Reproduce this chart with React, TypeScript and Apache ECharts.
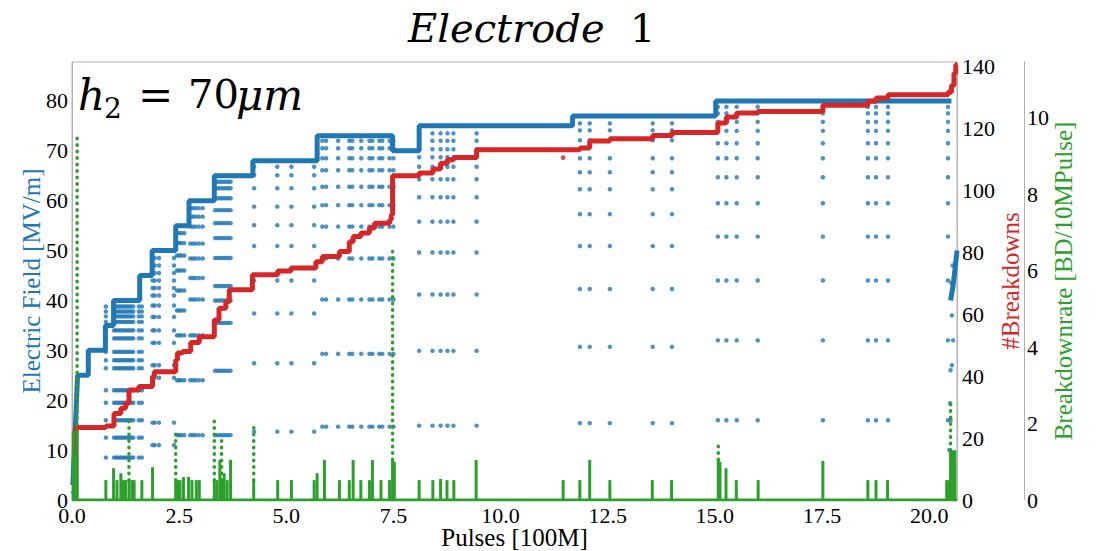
import React, { useEffect, useRef } from "react";
import * as echarts from "echarts";

// ---- Electric field: main step (start x of each level, level in MV/m) ----
const fieldStepX = [0.13, 0.38, 0.78, 0.97, 1.58, 1.87, 2.42, 2.73, 3.32, 4.22, 5.72, 7.48, 8.1, 11.68, 15.02];
const fieldStepLevel = [25, 30, 35, 40, 45, 50, 55, 60, 65, 68, 73, 70, 75, 77, 80];
const fieldStepEndX = 20.52;
const fieldRampStart = [[0.02, 3]];
const fieldTail = [[20.5, 40], [20.56, 43], [20.6, 46], [20.65, 50]];

// ---- Electric field: recovery ramps after breakdowns (columns x, levels) ----
const e40Cols = [0.79, 0.98, 1.03, 1.08, 1.13, 1.18, 1.23, 1.28, 1.33, 1.38, 1.43, 1.56, 1.63];
const e40Levels = [8.5, 12.5, 16, 19.5, 22, 26.4, 28, 29.7, 32.4, 34, 35.7, 36.8, 37.8, 38.8];
const e50Cols = [1.88, 1.93, 2.03, 2.38];
const e50Levels = [11, 15.5, 24.5, 27, 31.5, 34, 36.7, 39, 41, 42.5, 44, 45.5, 47, 48.5];
const e55Cols = [2.45, 2.5, 2.55, 2.62];
const e55Levels = [13, 24, 33, 38, 42, 46, 49, 51.5, 53.5];
const e60Cols = [2.76, 2.82, 2.88, 2.96, 3.05];
const e60Levels = [13, 24, 33, 40.2, 44.5, 48.4, 51.4, 54.8, 56.8, 58.5];
const e65Cols = [3.34, 3.4, 3.46, 3.52, 3.58, 3.64, 3.7];
const e65Levels = [13, 25.9, 35.5, 40, 42.9, 48.5, 52.5, 55.5, 58.1, 60.5, 62.5, 63.8];
const e68Cols = [4.25, 4.79, 5.12, 5.65];
const e68Levels = [13.7, 27.4, 37.4, 44, 50.9, 55.1, 58.8, 62.5, 65.1, 66.8];
const e73Cols = [5.84, 5.93, 6.21, 6.47, 6.54, 6.75, 6.94, 7.01, 7.17, 7.24, 7.41, 7.5];
const e73Levels = [14.7, 29.3, 40.2, 48.4, 54.8, 59.1, 62.8, 66.1, 68.5, 70.5, 72];
const e75Cols = [8.1, 8.41, 8.6, 8.76, 8.9, 9.44];
const e75Levels = [14.9, 29.9, 41.2, 49.6, 55.8, 60.7, 64.3, 66.8, 68.7, 70.3, 72, 73.5];
const e77Cols = [11.85, 12.08, 12.55, 13.55, 14.0];
const e77Levels = [15.4, 30.7, 42.3, 50.9, 57.3, 62.3, 65.7, 68.5, 72.1, 74.1, 75.5];
const e80Cols = [15.07, 15.27, 15.51, 16.0, 17.52, 18.57, 18.76, 19.04, 20.44];
const e80Levels = [16, 32, 44, 52.8, 59.5, 64.7, 68.5, 71.5, 74, 75.8, 77.5, 78.8];
const fieldExtraX = [0.03, 0.04, 0.05, 0.06, 0.08, 20.47, 20.5, 20.49, 20.5, 20.53, 20.56, 20.53, 20.52, 20.55];
const fieldExtraY = [1.5, 4, 6, 9, 12, 10, 16, 19.4, 26, 27, 32, 37, 43.5, 47];

// ---- Cumulative breakdowns (step) ----
const bdStepX = [0.09, 0.79, 0.98, 1.14, 1.25, 1.33, 1.56, 1.88, 1.92, 2.42, 2.46, 2.58, 2.77, 2.97, 3.32, 3.43, 3.59, 3.67, 4.21, 4.8, 5.11, 5.69, 5.84, 6.24, 6.47, 6.56, 6.74, 6.94, 7.06, 7.41, 7.45, 7.48, 8.1, 8.42, 8.6, 8.76, 8.91, 9.44, 11.85, 12.08, 12.55, 13.55, 14.0, 15.07, 15.27, 15.51, 16.0, 17.52, 18.57, 18.76, 19.04, 20.44, 20.52, 20.58, 20.62];
const bdStepLevel = [23.4, 23.9, 28, 29.7, 31.3, 35.6, 36.7, 39.9, 41.5, 45.3, 47.5, 48, 50.9, 52.8, 58.2, 62, 64.2, 68, 72.8, 74, 75, 77, 78.7, 80.3, 83.5, 85.2, 86.3, 87.9, 89.5, 90.6, 92.2, 104.8, 105.7, 107, 108.9, 110, 110.7, 113.2, 113.8, 116.1, 116.8, 117.8, 118.8, 121.9, 123.8, 125.1, 125.6, 127.6, 128.9, 130, 131, 131.8, 134, 138, 140.7];
const bdStepEndX = 20.65;
const bdStray = [[11.46, 110.7]];

// ---- Breakdown rate: solid spike parts ----
const rateX = [0.03, 0.06, 0.1, 0.12, 0.79, 0.97, 1.05, 1.14, 1.2, 1.25, 1.33, 1.4, 1.45, 1.63, 1.88, 2.42, 2.47, 2.52, 2.6, 2.72, 2.8, 2.9, 2.97, 3.32, 3.38, 3.45, 3.49, 3.55, 3.62, 3.7, 4.24, 4.8, 5.12, 5.65, 5.72, 5.89, 6.24, 6.47, 6.56, 6.74, 6.94, 7.01, 7.21, 7.41, 7.48, 7.52, 8.1, 8.42, 8.6, 8.75, 8.91, 9.43, 11.46, 11.85, 12.08, 12.55, 13.54, 13.99, 15.08, 15.12, 15.26, 15.5, 16.01, 17.52, 18.57, 18.76, 19.03, 20.41, 20.47, 20.5, 20.55, 20.6];
const rateH = [1.8, 1.2, 0.8, 1.8, 0.52, 0.83, 0.52, 0.7, 0.52, 0.52, 0.52, 0.52, 0.52, 0.52, 0.86, 0.52, 0.52, 0.52, 0.6, 0.6, 0.52, 0.52, 0.52, 0.52, 0.52, 1.05, 0.52, 0.7, 0.52, 1.05, 0.52, 0.52, 0.52, 0.52, 0.7, 1.05, 0.52, 0.52, 1.05, 0.52, 0.52, 1.05, 0.52, 0.52, 1.05, 1.0, 0.52, 0.52, 0.55, 0.52, 0.52, 1.05, 0.52, 0.52, 1.05, 0.52, 0.52, 0.52, 1.05, 1.0, 0.83, 0.52, 0.52, 1.02, 0.52, 0.52, 0.52, 0.52, 0.52, 1.3, 1.3, 1.3];
// ---- Breakdown rate: dotted upper parts of the tall spikes ----
const rateDotX = [0.12, 1.33, 2.42, 3.32, 3.49, 4.24, 7.48, 15.08, 20.5];
const rateDotBase = [1.8, 0.52, 0.52, 0.52, 0.52, 0.52, 1.05, 1.05, 1.3];
const rateDotTop = [9.55, 2.14, 1.82, 2.14, 1.61, 2.02, 6.5, 1.53, 2.6];

const xTicksMax = 20.65;

const BLUE = "#1f77b4";
const RED = "#d62728";
const GREEN = "#2ca02c";
const SERIF = "'Liberation Serif', serif";
const MATH = "'DejaVu Serif', serif";

function stepCorners(xs: number[], ys: number[], endX: number) {
  const pts: number[][] = [];
  for (let i = 0; i < xs.length; i++) {
    pts.push([xs[i], ys[i]]);
    pts.push([i + 1 < xs.length ? xs[i + 1] : endX, ys[i]]);
  }
  return pts;
}

export default function App() {
  const ref = useRef<HTMLDivElement>(null);
  useEffect(() => {
    if (!ref.current) return;
    const chart = echarts.init(ref.current, null, { renderer: "svg" });

    const eras: [number[], number[]][] = [
      [e40Cols, e40Levels], [e50Cols, e50Levels], [e55Cols, e55Levels], [e60Cols, e60Levels],
      [e65Cols, e65Levels], [e68Cols, e68Levels], [e73Cols, e73Levels], [e75Cols, e75Levels],
      [e77Cols, e77Levels], [e80Cols, e80Levels],
    ];
    const fieldDots: number[][] = [];
    eras.forEach(([cols, levels]) => cols.forEach((c) => levels.forEach((l) => fieldDots.push([c, l]))));
    fieldExtraX.forEach((x, i) => fieldDots.push([x, fieldExtraY[i]]));

    const fieldLine = [...fieldRampStart, ...stepCorners(fieldStepX, fieldStepLevel, fieldStepEndX)];
    const bdLine = [[bdStepX[0], 0], ...stepCorners(bdStepX, bdStepLevel, bdStepEndX)];
    const rateBars = rateX.map((x, i) => [x, rateH[i]]);
    const dottedSeries = rateDotX.map((x, i) => ({
      name: `rate dotted ${i}`,
      type: "line",
      yAxisIndex: 2,
      data: [[x, rateDotBase[i]], [x, rateDotTop[i]]],
      showSymbol: false,
      lineStyle: { color: GREEN, width: 3.5, type: [0.5, 6], cap: "round" },
      z: 5,
    }));

    const axisLineGray = { show: true, lineStyle: { color: "#b0b0b0", width: 1 } };
    const mkLabel = (margin: number, fmt?: (v: number) => string) => ({
      show: true,
      margin,
      showMaxLabel: false,
      color: "#000",
      fontSize: 22,
      fontFamily: SERIF,
      ...(fmt ? { formatter: fmt } : {}),
    });

    chart.setOption({
      animation: false,
      backgroundColor: "#fff",
      textStyle: { fontFamily: SERIF, color: "#000" },
      grid: {
        left: 72, right: 142, top: 62, bottom: 51,
        show: true, borderColor: "#b0b0b0", borderWidth: 1,
        containLabel: false, outerBoundsMode: "none",
      },
      xAxis: {
        type: "value",
        min: 0,
        max: xTicksMax,
        interval: 2.5,
        axisLine: axisLineGray,
        axisTick: { show: false },
        splitLine: { show: false },
        axisLabel: mkLabel(4, (v) => v.toFixed(1)),
        name: "Pulses [100M]",
        nameLocation: "middle",
        nameGap: 25,
        nameMoveOverlap: false,
        nameTextStyle: { color: "#000", fontFamily: SERIF, fontSize: 25 },
      },
      yAxis: [
        {
          type: "value",
          position: "left",
          min: 0,
          max: 87.8,
          interval: 10,
          axisLine: axisLineGray,
          axisTick: { show: false },
          splitLine: { show: false },
          axisLabel: mkLabel(4),
          name: "Electric Field [MV/m]",
          nameLocation: "middle",
          nameRotate: 90,
          nameGap: 28,
          nameMoveOverlap: false,
          nameTextStyle: { color: BLUE, fontFamily: SERIF, fontSize: 25 },
        },
        {
          type: "value",
          position: "right",
          min: 0,
          max: 141.6,
          interval: 20,
          axisLine: axisLineGray,
          axisTick: { show: false },
          splitLine: { show: false },
          axisLabel: mkLabel(5),
          name: "#Breakdowns",
          nameLocation: "middle",
          nameRotate: 90,
          nameGap: 41,
          nameMoveOverlap: false,
          nameTextStyle: { color: RED, fontFamily: SERIF, fontSize: 25 },
        },
        {
          type: "value",
          position: "right",
          offset: 67,
          min: 0,
          max: 11.46,
          interval: 2,
          axisLine: axisLineGray,
          axisTick: { show: false },
          splitLine: { show: false },
          axisLabel: mkLabel(3),
          name: "Breakdownrate [BD/10MPulse]",
          nameLocation: "middle",
          nameRotate: 90,
          nameGap: 27,
          nameMoveOverlap: false,
          nameTextStyle: { color: GREEN, fontFamily: SERIF, fontSize: 25 },
        },
      ],
      graphic: [
        { type: "text", left: 408, top: 8, style: { text: "Electrode", font: `italic 40px ${MATH}`, fill: "#000" } },
        { type: "text", left: 630, top: 8, style: { text: "1", font: `40px ${MATH}`, fill: "#000" } },
        { type: "text", left: 78, top: 74, style: { text: "h", font: `italic 42px ${MATH}`, fill: "#000" } },
        { type: "text", left: 104, top: 94, style: { text: "2", font: `28px ${MATH}`, fill: "#000" } },
        { type: "text", left: 138, top: 74, style: { text: "=", font: `42px ${MATH}`, fill: "#000" } },
        { type: "text", left: 188, top: 74, style: { text: "70", font: `40px ${MATH}`, fill: "#000" } },
        { type: "text", left: 236, top: 74, style: { text: "μm", font: `italic 42px ${MATH}`, fill: "#000" } },
      ],
      series: [
        { name: "field dots", type: "scatter", yAxisIndex: 0, data: fieldDots, symbolSize: 4.5, itemStyle: { color: BLUE }, z: 2 },
        { name: "field", type: "line", yAxisIndex: 0, data: fieldLine, showSymbol: false, lineStyle: { color: BLUE, width: 5 }, z: 3 },
        { name: "field tail", type: "line", yAxisIndex: 0, data: fieldTail, showSymbol: false, lineStyle: { color: BLUE, width: 5 }, z: 3 },
        { name: "breakdowns", type: "line", yAxisIndex: 1, data: bdLine, showSymbol: false, lineStyle: { color: RED, width: 5 }, z: 4 },
        { name: "breakdown stray", type: "scatter", yAxisIndex: 1, data: bdStray, symbolSize: 5, itemStyle: { color: RED }, z: 4 },
        { name: "rate", type: "bar", yAxisIndex: 2, data: rateBars, barWidth: 3, itemStyle: { color: GREEN }, z: 5 },
        ...dottedSeries,
        { name: "rate baseline", type: "line", yAxisIndex: 2, data: [[0, 0], [xTicksMax, 0]], showSymbol: false, lineStyle: { color: GREEN, width: 3 }, z: 5 },
      ],
    });
    return () => chart.dispose();
  }, []);
  return <div ref={ref} style={{ position: "fixed", left: 0, top: 0, width: 1099, height: 551 }} />;
}
